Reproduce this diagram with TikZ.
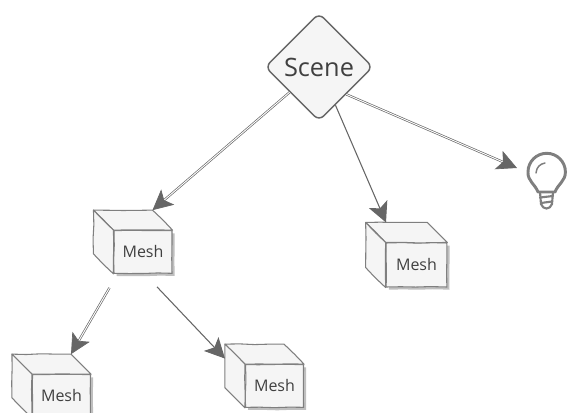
\documentclass[tikz,border=0pt]{standalone}
\usepackage{fontspec}
\setmainfont{Open Sans}
\usetikzlibrary{arrows.meta,calc,decorations.pathmorphing,shadows,shapes.geometric}
\definecolor{inkgray}{HTML}{666666}
\definecolor{boxfill}{HTML}{F5F5F5}
\definecolor{boxline}{HTML}{7F7F7F}
\definecolor{labelgray}{HTML}{404040}
\tikzset{
  wobble/.style={decorate, decoration={random steps, segment length=11pt, amplitude=0.35pt}},
  scenebox/.style={draw=inkgray, fill=boxfill, diamond, aspect=1, rounded corners=5pt, line width=1.1pt, inner sep=0pt, minimum size=81pt, text=labelgray, font=\fontsize{19}{22}\selectfont},
  meshfront/.style={draw=boxline, fill=boxfill, line width=0.8pt, wobble, inner sep=0pt, minimum width=43.5pt, minimum height=32pt, text=labelgray, font=\fontsize{12}{14}\selectfont, drop shadow={shadow xshift=2pt, shadow yshift=-2pt, opacity=0.25, fill=black}},
  meshface/.style={draw=boxline, fill=boxfill, line width=0.8pt, line join=round, wobble},
  arrow/.style={-{Stealth[length=15pt, width=15pt, inset=3.5pt]}, draw=inkgray, line width=0.8pt},
  sketcharrow/.style={arrow, double=white, double distance=0.7pt, line width=0.5pt},
  bulbline/.style={draw=boxline, line width=2.2pt, line cap=round, line join=round}
}
\newcommand{\meshbox}[3][]{
  \node[meshfront, #1] (#2) at (#3) {Mesh};
  \coordinate (#2-tl) at ($(#2.north west)+(-20,-20)$);
  \coordinate (#2-tr) at ($(#2.north east)+(-20,-20)$);
  \coordinate (#2-bl) at ($(#2.south west)+(-20,-20)$);
  \draw[meshface] (#2-tl) -- (#2-tr) -- (#2.north east) -- (#2.north west) -- cycle;
  \draw[meshface] (#2-tl) -- (#2.north west) -- (#2.south west) -- (#2-bl) -- cycle;
}
\begin{document}
\begin{tikzpicture}[x=0.75pt, y=-0.75pt]
  \useasboundingbox (0,0) rectangle (579,413);
  \clip (0,0) rectangle (579,413);
  \node[scenebox] (scene) at (319,67) {Scene};

  \meshbox{meshleft}{143,252}
  \meshbox[minimum width=45.5pt, minimum height=33pt]{meshright}{416.5,265}
  \meshbox{meshlow}{61.5,396}
  \meshbox{meshmid}{274.5,386}

  % light bulb
  \node[minimum width=30pt, minimum height=42pt, inner sep=0pt] (bulb) at (547,181) {};
  \coordinate (bulbtip) at (517,168);
  \draw[bulbline] (538,192) .. controls (535,184) and (527.5,181) .. (528,172) arc[start angle=180, end angle=360, radius=18.7] .. controls (565.5,181) and (558,184) .. (555,192) -- cycle;
  \draw[bulbline, line width=1.6pt] (540,197.5) -- (553,196) (541,203) -- (552,201.5);
  \draw[bulbline, line width=1.6pt] (540,192) -- (541,204) .. controls (543,210) and (550,210) .. (552,204) -- (553,192);
  \draw[bulbline, line width=1.1pt] (536,173) .. controls (536.5,167) and (540,164) .. (545,163);

  \draw[sketcharrow] (scene) -- (meshleft-tr);
  \draw[arrow] (scene) -- ($(meshright-tl)!0.33!(meshright-tr)$);
  \draw[sketcharrow] (scene.-45) -- (bulbtip);
  \draw[sketcharrow] ($(meshleft.south west)+(-4,14)$) -- (meshlow-tr);
  \draw[arrow] ($(meshleft.south)+(14,13)$) -- ($(meshmid-tl)!0.33!(meshmid-bl)$);
\end{tikzpicture}
\end{document}
